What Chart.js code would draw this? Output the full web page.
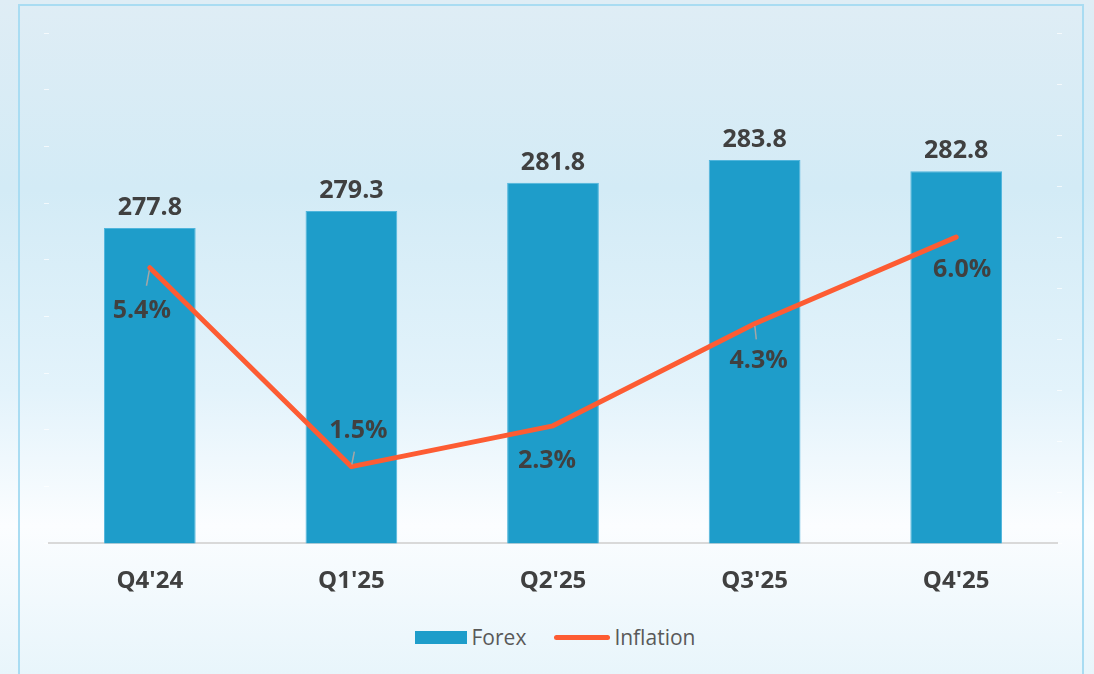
<!DOCTYPE html>
<html>
<head>
<meta charset="utf-8">
<script src="https://cdn.jsdelivr.net/npm/chart.js@4"></script>
<style>
  html, body { margin: 0; padding: 0; }
  body {
    width: 1094px; height: 674px; overflow: hidden; position: relative;
    background: linear-gradient(to bottom, #dfedf5 0%, #d3ebf6 28%, #e3f3fb 58%, #fbfdff 78%, #e8f5fb 100%);
    font-family: "Open Sans", sans-serif;
  }
  .frame {
    position: absolute; left: 18px; top: 4px; width: 1066px; height: 700px;
    border: 2px solid #a9dcf2; box-sizing: border-box;
  }
  .chart-box { position: absolute; left: 0; top: 0; width: 1094px; height: 612px; }
  .legend {
    position: absolute; top: 624px; left: 8px; width: 1094px; height: 26px;
    display: flex; justify-content: center; align-items: center;
    font-size: 21px; color: #595959;
  }
  .legend span { display: inline-flex; align-items: center; }
  .swatch-bar { width: 52px; height: 13px; background: #1e9dca; margin-right: 5px; }
  .swatch-line { width: 56px; height: 5px; border-radius: 3px; background: #fd5c33; margin: 0 4px 0 28px; }
</style>
</head>
<body>
<div class="frame"></div>
<div class="chart-box"><canvas id="forex-chart"></canvas></div>
<div class="legend">
  <span><i class="swatch-bar"></i>Forex</span>
  <span><i class="swatch-line"></i>Inflation</span>
</div>
<script>
// DATA //
const quarters = ["Q4'24", "Q1'25", "Q2'25", "Q3'25", "Q4'25"];
const forexValues = [277.8, 279.3, 281.8, 283.8, 282.8];
const inflationValues = [5.4, 1.5, 2.3, 4.3, 6.0];

// where each inflation label sits relative to its point, and which get a leader line
const inflationLabelDx = [-8, 7, -6, 4, 6];
const inflationLabelDy = [43, -36, 35, 37, 33];
const inflationLeader = [true, true, false, true, false];

const barColor = '#1e9dca';
const lineColor = '#fd5c33';
const labelColor = '#404040';

// LABEL PLUGIN //
const valueLabels = {
    id: 'valueLabels',
    afterDatasetsDraw(chart) {
        const ctx = chart.ctx;
        ctx.save();
        ctx.font = 'bold 25px "Open Sans"';
        ctx.fillStyle = labelColor;
        ctx.textAlign = 'center';
        ctx.textBaseline = 'middle';

        // dataset 0 = bars
        chart.getDatasetMeta(0).data.forEach((bar, i) => {
            ctx.fillText(forexValues[i].toFixed(1), bar.x, bar.y - 20);
        });

        // dataset 1 = line
        chart.getDatasetMeta(1).data.forEach((pt, i) => {
            const dx = inflationLabelDx[i];
            const dy = inflationLabelDy[i];
            if (inflationLeader[i]) {
                ctx.strokeStyle = '#a6a6a6';
                ctx.lineWidth = 1.5;
                ctx.beginPath();
                ctx.moveTo(pt.x + dx * 0.06, pt.y + dy * 0.06);
                ctx.lineTo(pt.x + dx * 0.42, pt.y + dy * 0.42);
                ctx.stroke();
            }
            ctx.fillStyle = labelColor;
            ctx.fillText(inflationValues[i].toFixed(1) + '%', pt.x + dx, pt.y + dy);
        });
        ctx.restore();
    }
};

// CHART //
const forexCanvas = document.getElementById('forex-chart');

let forexChart = new Chart(forexCanvas, {
    data: {
        labels: quarters,
        datasets: [{
            type: 'bar',
            label: 'Forex',
            data: forexValues,
            yAxisID: 'y',
            backgroundColor: barColor,
            borderColor: '#4fb5dc',
            borderWidth: 1,
            barPercentage: 0.455,
            categoryPercentage: 1,
            order: 1
        }, {
            type: 'line',
            label: 'Inflation',
            data: inflationValues,
            yAxisID: 'y1',
            borderColor: lineColor,
            borderWidth: 5,
            borderCapStyle: 'round',
            borderJoinStyle: 'round',
            pointRadius: 0,
            tension: 0,
            order: 0
        }]
    },
    options: {
        responsive: true,
        maintainAspectRatio: false,
        animation: false,
        layout: {
            padding: { top: 33, left: 44, right: 32, bottom: 0 }
        },
        scales: {
            x: {
                grid: { display: false },
                border: { color: '#d9d9d9', width: 2 },
                ticks: {
                    color: labelColor,
                    font: { family: 'Open Sans', size: 24, weight: 'bold' },
                    padding: 16
                }
            },
            y: {
                position: 'left',
                min: 250,
                max: 295,
                ticks: { stepSize: 5, display: false },
                grid: { drawOnChartArea: false, drawTicks: true, tickLength: 5, color: 'rgba(255,255,255,0.7)' },
                border: { display: false }
            },
            y1: {
                position: 'right',
                min: 0,
                max: 10,
                ticks: { stepSize: 1, display: false },
                grid: { drawOnChartArea: false, drawTicks: true, tickLength: 5, color: 'rgba(255,255,255,0.7)' },
                border: { display: false }
            }
        },
        plugins: {
            legend: { display: false },
            tooltip: { enabled: false }
        }
    },
    plugins: [valueLabels]
});
</script>
</body>
</html>
